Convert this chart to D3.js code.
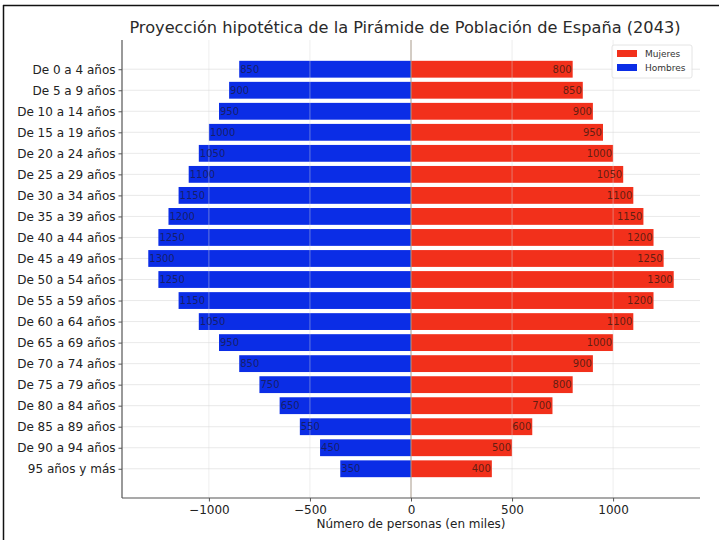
<!DOCTYPE html>
<html>
<head>
<meta charset="utf-8">
<script src="https://cdn.jsdelivr.net/npm/d3@7"></script>
<style>
  html, body { margin: 0; padding: 0; background: #fff; }
  svg { display: block; font-family: "DejaVu Sans", sans-serif; }
</style>
</head>
<body>
<svg id="chart" width="719" height="540"></svg>
<script>
// Age groups, top to bottom
const categories = [
  "De 0 a 4 años", "De 5 a 9 años", "De 10 a 14 años", "De 15 a 19 años",
  "De 20 a 24 años", "De 25 a 29 años", "De 30 a 34 años", "De 35 a 39 años",
  "De 40 a 44 años", "De 45 a 49 años", "De 50 a 54 años", "De 55 a 59 años",
  "De 60 a 64 años", "De 65 a 69 años", "De 70 a 74 años", "De 75 a 79 años",
  "De 80 a 84 años", "De 85 a 89 años", "De 90 a 94 años", "95 años y más"
];
// Population in thousands
const hombres = [850, 900, 950, 1000, 1050, 1100, 1150, 1200, 1250, 1300,
                 1250, 1150, 1050, 950, 850, 750, 650, 550, 450, 350];
const mujeres = [800, 850, 900, 950, 1000, 1050, 1100, 1150, 1200, 1250,
                 1300, 1200, 1100, 1000, 900, 800, 700, 600, 500, 400];
const xTicks = [-1000, -500, 0, 500, 1000];
const legendLabels = ["Mujeres", "Hombres"];

const colorMujeres = "#f2301b";
const colorHombres = "#0b2de6";

const svg = d3.select("#chart");

// Outer frame (top and left edges)
svg.append("line").attr("x1", 3).attr("x2", 719).attr("y1", 5.5).attr("y2", 5.5)
  .attr("stroke", "#111").attr("stroke-width", 1.5);
svg.append("line").attr("x1", 3.5).attr("x2", 3.5).attr("y1", 5).attr("y2", 540)
  .attr("stroke", "#111").attr("stroke-width", 1.5);

const plot = { left: 122, right: 700, top: 40, bottom: 498 };

const maxVal = d3.max([...hombres, ...mujeres]);
const pad = maxVal * 2 * 0.05;
const x = d3.scaleLinear()
  .domain([-maxVal - pad, maxVal + pad])
  .range([plot.left, plot.right]);

const n = categories.length;
const bh = 0.8;
const ySpan = (n - 1) + bh;
const yPad = ySpan * 0.05;
const y = d3.scaleLinear()
  .domain([-bh / 2 - yPad, n - 1 + bh / 2 + yPad])
  .range([plot.top, plot.bottom]);
const barH = y(bh) - y(0);

const g = svg.append("g");

// Horizontal grid at each age group
g.selectAll("line.hgrid").data(categories).join("line")
  .attr("class", "hgrid")
  .attr("x1", plot.left).attr("x2", plot.right)
  .attr("y1", (d, i) => y(i)).attr("y2", (d, i) => y(i))
  .attr("stroke", "#e3e3e3").attr("stroke-width", 0.8);

// Bars
g.selectAll("rect.h").data(hombres).join("rect")
  .attr("class", "h")
  .attr("x", d => x(-d)).attr("width", d => x(0) - x(-d))
  .attr("y", (d, i) => y(i) - barH / 2).attr("height", barH)
  .attr("fill", colorHombres);
g.selectAll("rect.m").data(mujeres).join("rect")
  .attr("class", "m")
  .attr("x", x(0)).attr("width", d => x(d) - x(0))
  .attr("y", (d, i) => y(i) - barH / 2).attr("height", barH)
  .attr("fill", colorMujeres);

// Vertical grid drawn over the bars
g.selectAll("line.vgrid").data(xTicks.filter(t => t !== 0)).join("line")
  .attr("class", "vgrid")
  .attr("x1", d => x(d)).attr("x2", d => x(d))
  .attr("y1", plot.top).attr("y2", plot.bottom)
  .attr("stroke", "#d8d8d8").attr("stroke-opacity", 0.55).attr("stroke-width", 0.8);
g.append("line")
  .attr("x1", x(0)).attr("x2", x(0)).attr("y1", plot.top).attr("y2", plot.bottom)
  .attr("stroke", "#a89a8a").attr("stroke-width", 1);

// Value labels
g.selectAll("text.hl").data(hombres).join("text")
  .attr("class", "hl")
  .attr("x", d => x(-d) + 1).attr("y", (d, i) => y(i))
  .attr("dy", "0.35em").attr("text-anchor", "start")
  .attr("font-size", 10).attr("fill", "#1a1a40").attr("fill-opacity", 0.75)
  .text(d => d);
g.selectAll("text.ml").data(mujeres).join("text")
  .attr("class", "ml")
  .attr("x", d => x(d) - 1).attr("y", (d, i) => y(i))
  .attr("dy", "0.35em").attr("text-anchor", "end")
  .attr("font-size", 10).attr("fill", "#3a1a10").attr("fill-opacity", 0.8)
  .text(d => d);

// Y axis
const yAxis = d3.axisLeft(y)
  .tickValues(d3.range(n))
  .tickFormat(i => categories[i])
  .tickSize(3.5).tickPadding(3);
const gy = svg.append("g").attr("transform", `translate(${plot.left},0)`).call(yAxis);
gy.select(".domain").attr("stroke", "#555").attr("stroke-width", 1.2)
  .attr("d", `M0,${plot.top}V${plot.bottom}`);
gy.selectAll(".tick line").attr("stroke", "#555");
gy.selectAll(".tick text").attr("font-size", 12).attr("fill", "#222")
  .attr("font-family", "DejaVu Sans, sans-serif");

// X axis
const xAxis = d3.axisBottom(x)
  .tickValues(xTicks)
  .tickFormat(d => d < 0 ? "\u2212" + Math.abs(d) : String(d))
  .tickSize(3.5).tickPadding(4);
const gx = svg.append("g").attr("transform", `translate(0,${plot.bottom})`).call(xAxis);
gx.select(".domain").attr("stroke", "#555").attr("stroke-width", 1.2)
  .attr("d", `M${plot.left},0H${plot.right}`);
gx.selectAll(".tick line").attr("stroke", "#555");
gx.selectAll(".tick text").attr("font-size", 12).attr("fill", "#222")
  .attr("font-family", "DejaVu Sans, sans-serif");

// Axis title and chart title
svg.append("text")
  .attr("x", (plot.left + plot.right) / 2).attr("y", 528)
  .attr("text-anchor", "middle").attr("font-size", 12).attr("fill", "#222")
  .text("Número de personas (en miles)");
svg.append("text")
  .attr("x", (plot.left + plot.right) / 2 - 6).attr("y", 33)
  .attr("text-anchor", "middle").attr("font-size", 16.2).attr("fill", "#2a2a2a")
  .text("Proyección hipotética de la Pirámide de Población de España (2043)");

// Legend
const lg = svg.append("g").attr("transform", "translate(612,45)");
lg.append("rect").attr("width", 80).attr("height", 33).attr("rx", 2)
  .attr("fill", "#fff").attr("fill-opacity", 0.8)
  .attr("stroke", "#ddd").attr("stroke-width", 0.8);
const legendColors = [colorMujeres, colorHombres];
legendLabels.forEach((lab, i) => {
  lg.append("rect").attr("x", 5).attr("y", 5 + i * 14).attr("width", 20).attr("height", 7)
    .attr("fill", legendColors[i]);
  lg.append("text").attr("x", 33).attr("y", 9 + i * 14).attr("dy", "0.35em")
    .attr("font-size", 9).attr("fill", "#333").text(lab);
});
</script>
</body>
</html>
